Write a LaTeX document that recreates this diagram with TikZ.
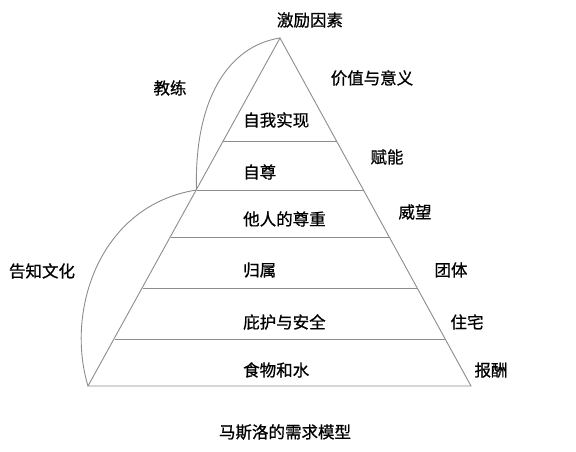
\documentclass[tikz,border=0pt]{standalone}
\usepackage{fontspec}
\setmainfont{Noto Sans CJK SC}[FakeBold=0.8]
\begin{document}
\begin{tikzpicture}[x=1pt,y=-1pt,
  edge/.style={draw=black!45,line width=0.9pt},
  lbl/.style={font=\fontsize{16.5}{18}\selectfont,inner sep=0pt,text=black}]
\useasboundingbox (0,0) rectangle (576,451);
% pyramid
\coordinate (A) at (280,38);
\coordinate (BL) at (88,386);
\coordinate (BR) at (471,386);
\coordinate (L1) at (223,141); \coordinate (R1) at (336.5,141);
\coordinate (L2) at (196.5,190); \coordinate (R2) at (363.5,190);
\coordinate (L3) at (170.5,237); \coordinate (R3) at (389.5,237);
\coordinate (L4) at (142.5,288); \coordinate (R4) at (417.5,288);
\coordinate (L5) at (114.5,339); \coordinate (R5) at (445.5,339);
\draw[edge] (BL) -- (A) -- (BR) -- cycle;
\draw[edge] (L1) -- (R1);
\draw[edge] (L2) -- (R2);
\draw[edge] (L3) -- (R3);
\draw[edge] (L4) -- (R4);
\draw[edge] (L5) -- (R5);
% arcs
\draw[edge] (L2) .. controls (194,100) and (228,46) .. (A);
\draw[edge] (BL) .. controls (65,310) and (100,205) .. (L2);
% labels
\node[lbl] (top) at (310,20) {激励因素};
\node[lbl] (coach) at (170,88) {教练};
\node[lbl] (value) at (372,78) {价值与意义};
\node[lbl,anchor=west] (l1) at (243,120) {自我实现};
\node[lbl] (enable) at (387,157) {赋能};
\node[lbl,anchor=west] (l2) at (243,172) {自尊};
\node[lbl] (prestige) at (415,212) {威望};
\node[lbl,anchor=west] (l3) at (243,219) {他人的尊重};
\node[lbl] (culture) at (42,271) {告知文化};
\node[lbl,anchor=west] (l4) at (243,270) {归属};
\node[lbl] (team) at (451,270) {团体};
\node[lbl,anchor=west] (l5) at (243,322) {庇护与安全};
\node[lbl] (house) at (467,322) {住宅};
\node[lbl,anchor=west] (l6) at (243,370) {食物和水};
\node[lbl] (pay) at (491,370) {报酬};
\node[lbl] (title) at (285,432) {马斯洛的需求模型};
\end{tikzpicture}
\end{document}
